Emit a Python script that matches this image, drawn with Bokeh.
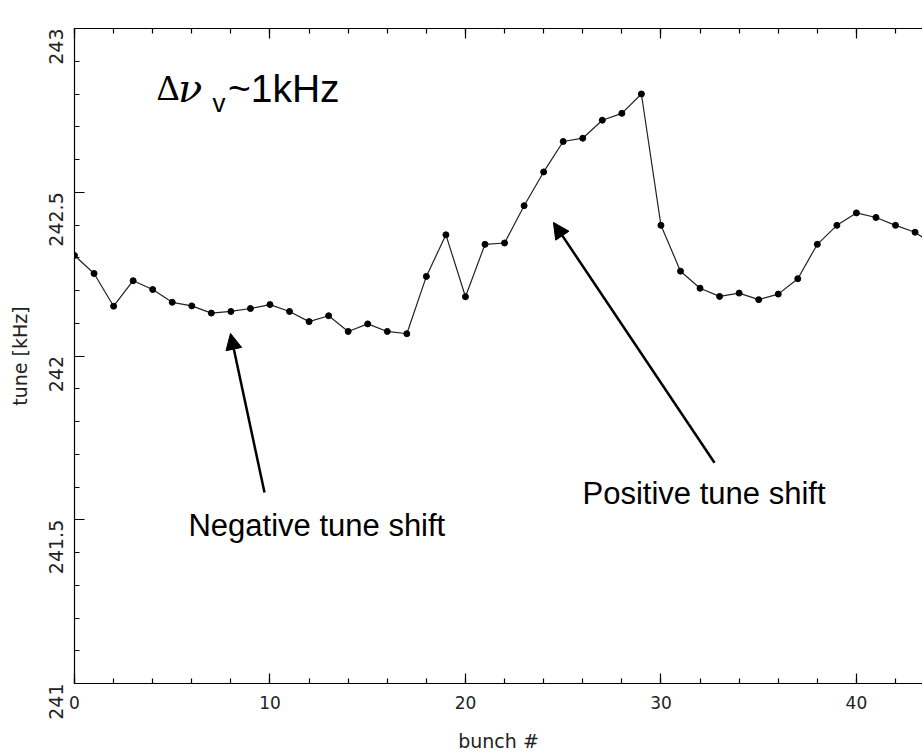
from bokeh.plotting import figure
from bokeh.models import (Range1d, SingleIntervalTicker, LinearAxis, Label, Arrow,
                          NormalHead, NumeralTickFormatter)
from bokeh.embed import file_html
from bokeh.resources import INLINE

# Per-bunch vertical tune along the train
bunch = list(range(45))
tune_khz = [242.307, 242.252, 242.152, 242.230, 242.203, 242.164, 242.153, 242.131,
            242.136, 242.145, 242.157, 242.136, 242.105, 242.123, 242.075, 242.098,
            242.075, 242.068, 242.243, 242.370, 242.181, 242.341, 242.345, 242.459,
            242.562, 242.655, 242.665, 242.720, 242.741, 242.800, 242.399, 242.259,
            242.207, 242.182, 242.192, 242.172, 242.189, 242.236, 242.341, 242.399,
            242.437, 242.423, 242.399, 242.378, 242.336]

x_label = "bunch #"
y_label = "tune [kHz]"

p = figure(width=922, height=754, output_backend="svg", toolbar_location=None,
           x_range=Range1d(0, 43.38), y_range=Range1d(241, 243),
           min_border_left=74, min_border_right=0, min_border_top=28,
           min_border_bottom=71, x_axis_label=x_label, y_axis_label=y_label)
p.outline_line_color = None
p.grid.visible = False
p.background_fill_color = "white"
p.border_fill_color = "white"

tick_font = "DejaVu Sans"

def style_axis(ax, ticker):
    ax.ticker = ticker
    ax.axis_line_color = "black"
    ax.axis_line_width = 1.2
    ax.major_tick_in = 10
    ax.major_tick_out = 0
    ax.minor_tick_in = 5
    ax.minor_tick_out = 0
    ax.major_tick_line_color = "black"
    ax.minor_tick_line_color = "black"
    ax.major_tick_line_width = 1.2
    ax.minor_tick_line_width = 1.2
    ax.major_label_text_font = tick_font
    ax.major_label_text_color = "#222222"
    ax.axis_label_text_font = tick_font
    ax.axis_label_text_font_style = "normal"
    ax.axis_label_text_color = "#222222"
    ax.axis_label_text_font_size = "19px"

xt = SingleIntervalTicker(interval=10, num_minor_ticks=5)
yt = SingleIntervalTicker(interval=0.5, num_minor_ticks=5)

xa = p.xaxis[0]
style_axis(xa, xt)
xa.major_label_text_font_size = "17px"
xa.major_label_standoff = 12
xa.axis_label_standoff = 18

ya = p.yaxis[0]
style_axis(ya, yt)
ya.formatter = NumeralTickFormatter(format="0.[0]")
ya.major_label_orientation = 1.5707963
ya.major_label_text_font_size = "19px"
ya.major_label_standoff = 19
ya.axis_label_standoff = 8

# ticks along the top edge, no labels
top = LinearAxis()
style_axis(top, SingleIntervalTicker(interval=10, num_minor_ticks=5))
top.major_label_text_color = None
top.major_label_text_font_size = "10px"
top.major_label_standoff = 0
p.add_layout(top, "above")

p.line(bunch, tune_khz, line_color="#222222", line_width=1.2)
p.scatter(bunch, tune_khz, size=6, fill_color="black", line_color="black")

# annotations
p.add_layout(Arrow(end=NormalHead(size=16, fill_color="black", line_color="black"),
                   x_start=9.72, y_start=241.583, x_end=7.98, y_end=242.069,
                   line_width=2.5, line_color="black"))
p.add_layout(Arrow(end=NormalHead(size=16, fill_color="black", line_color="black"),
                   x_start=32.74, y_start=241.674, x_end=24.5, y_end=242.408,
                   line_width=2.5, line_color="black"))

p.add_layout(Label(x=5.83, y=241.481, text="Negative tune shift",
                   text_font="Liberation Sans", text_font_size="31px",
                   text_baseline="alphabetic", text_align="left", text_color="black"))
p.add_layout(Label(x=25.99, y=241.579, text="Positive tune shift",
                   text_font="Liberation Sans", text_font_size="31px",
                   text_baseline="alphabetic", text_align="left", text_color="black"))

p.add_layout(Label(x=4.2, y=242.818, text="Δ",
                   text_font="Liberation Serif", text_font_size="36px",
                   text_baseline="alphabetic", text_align="left", text_color="black"))
p.add_layout(Label(x=5.3, y=242.818, text="ν",
                   text_font="DejaVu Serif", text_font_size="40px", text_font_style="italic",
                   text_baseline="alphabetic", text_align="left", text_color="black"))
p.add_layout(Label(x=7.06, y=242.772, text="v",
                   text_font="Liberation Sans", text_font_size="26px",
                   text_baseline="alphabetic", text_align="left", text_color="black"))
p.add_layout(Label(x=7.85, y=242.818, text="~1kHz",
                   text_font="Liberation Sans", text_font_size="39px",
                   text_baseline="alphabetic", text_align="left", text_color="black"))

open("out.html", "w").write(file_html(p, INLINE))
